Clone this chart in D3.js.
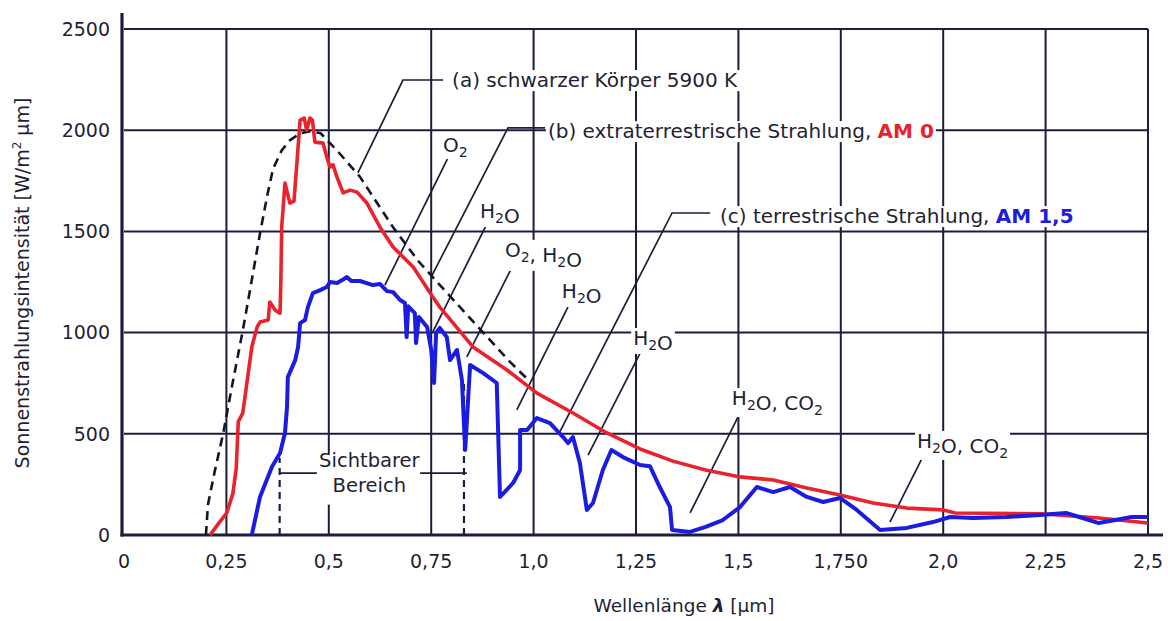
<!DOCTYPE html>
<html>
<head>
<meta charset="utf-8">
<script src="https://cdn.jsdelivr.net/npm/d3@7"></script>
<style>
  body { margin: 0; background: #fff; }
  text { font-family: "DejaVu Sans", "Liberation Sans", sans-serif; fill: #1f1f35; }
</style>
</head>
<body>
<svg id="chart"></svg>
<script>
// wavelength in µm, intensity in W/(m² µm)
const xTicks = [0, 0.25, 0.5, 0.75, 1.0, 1.25, 1.5, 1.75, 2.0, 2.25, 2.5];
const xTickLabels = ["0", "0,25", "0,5", "0,75", "1,0", "1,25", "1,5", "1,750", "2,0", "2,25", "2,5"];
const yTicks = [0, 500, 1000, 1500, 2000, 2500];

// (a) schwarzer Körper 5900 K
const blackBody = [
  [0.20, 0], [0.205, 150], [0.22, 300], [0.242, 500], [0.265, 750], [0.29, 1010],
  [0.312, 1260], [0.332, 1490], [0.35, 1680], [0.364, 1810], [0.385, 1900],
  [0.405, 1950], [0.43, 1985], [0.455, 1995], [0.48, 1985], [0.52, 1900],
  [0.576, 1770], [0.657, 1520], [0.72, 1350], [0.789, 1195], [0.877, 1000],
  [0.94, 860], [0.99, 760]
];

// (b) AM 0
const am0 = [
  [0.21, 0], [0.232, 60], [0.251, 109], [0.266, 207], [0.274, 330], [0.279, 560],
  [0.29, 603], [0.30, 751], [0.312, 929], [0.325, 1028], [0.332, 1052], [0.352, 1062],
  [0.356, 1151], [0.369, 1111], [0.381, 1096], [0.383, 1260], [0.385, 1521],
  [0.393, 1739], [0.405, 1640], [0.415, 1650], [0.43, 2050], [0.44, 2060],
  [0.446, 2000], [0.454, 2060], [0.46, 2050], [0.466, 1941], [0.486, 1936],
  [0.495, 1867], [0.503, 1818], [0.51, 1830], [0.52, 1768], [0.535, 1690],
  [0.552, 1704], [0.569, 1694], [0.593, 1640], [0.625, 1521], [0.657, 1423],
  [0.706, 1324], [0.754, 1176], [0.771, 1126], [0.852, 929], [0.935, 815],
  [1.008, 701], [1.096, 603], [1.179, 504], [1.26, 425], [1.34, 365], [1.42, 321],
  [1.504, 287], [1.585, 272], [1.667, 232], [1.748, 198], [1.829, 158],
  [1.911, 133], [2.0, 124], [2.03, 109], [2.24, 105], [2.38, 84], [2.5, 59]
];

// (c) AM 1,5
const am15 = [
  [0.312, 0], [0.332, 188], [0.361, 336], [0.381, 405], [0.393, 504], [0.398, 632],
  [0.40, 780], [0.418, 864], [0.425, 929], [0.43, 1047], [0.442, 1062], [0.449, 1126],
  [0.461, 1195], [0.479, 1210], [0.495, 1225], [0.503, 1250], [0.52, 1245],
  [0.535, 1262], [0.544, 1275], [0.555, 1255], [0.576, 1255], [0.608, 1235],
  [0.625, 1240], [0.642, 1205], [0.657, 1200], [0.674, 1161], [0.686, 1146],
  [0.69, 978], [0.694, 1130], [0.71, 1096], [0.713, 949], [0.72, 1077], [0.74, 1028],
  [0.75, 914], [0.757, 751], [0.762, 998], [0.771, 1023], [0.788, 978], [0.796, 864],
  [0.813, 914], [0.825, 766], [0.833, 420], [0.845, 840], [0.877, 800], [0.91, 751],
  [0.918, 188], [0.95, 257], [0.967, 321], [0.967, 519], [0.984, 519], [1.008, 578],
  [1.04, 553], [1.072, 484], [1.084, 454], [1.096, 484], [1.113, 356], [1.13, 124],
  [1.145, 158], [1.169, 321], [1.19, 420], [1.218, 385], [1.26, 346], [1.284, 340],
  [1.308, 237], [1.333, 138], [1.338, 25], [1.382, 15], [1.42, 40], [1.462, 74],
  [1.504, 138], [1.545, 237], [1.585, 212], [1.626, 237], [1.667, 188], [1.707, 163],
  [1.748, 183], [1.789, 124], [1.846, 25], [1.911, 35], [1.975, 64], [2.017, 89],
  [2.073, 84], [2.155, 89], [2.236, 99], [2.30, 109], [2.34, 84], [2.38, 59],
  [2.42, 74], [2.46, 89], [2.5, 89]
];

// annotation texts (data coords of text start / baseline) and their leader lines
const labelText = [
  "(a) schwarzer Körper 5900 K", "(b) extraterrestrische Strahlung, ", "(c) terrestrische Strahlung, ",
  "O_2", "H_2O", "O_2, H_2O", "H_2O", "H_2O", "H_2O, CO_2", "H_2O, CO_2"
];
const labelTail = [null, "AM 0", "AM 1,5", null, null, null, null, null, null, null];
const labelPos = [
  [0.801, 2213], [1.035, 1961], [1.455, 1541], [0.779, 1892], [0.869, 1566],
  [0.93, 1374], [1.069, 1171], [1.243, 939], [1.484, 642], [1.936, 430]
];
const leaders = [
  [[0.779, 2248], [0.681, 2248], [0.571, 1789]],
  [[1.028, 2011], [0.9375, 2011], [0.75, 1275]],
  [[1.431, 1591], [1.338, 1591], [1.064, 509]],
  [[0.791, 1863], [0.637, 1235]],
  [[0.886, 1537], [0.754, 1003]],
  [[0.95, 1334], [0.837, 880]],
  [[1.084, 1127], [0.959, 618]],
  [[1.26, 899], [1.133, 395]],
  [[1.504, 603], [1.382, 109]],
  [[1.956, 410], [1.87, 64]]
];
// visible range 0,38 .. 0,83 µm
const visibleBounds = [0.38, 0.83];
const visibleTops = [380, 766];
const visibleText = ["Sichtbarer", "Bereich"];

const width = 1168, height = 621;
const red = "#e8232d", blue = "#1c1ce0", ink = "#1c1d3a";

const svg = d3.select("#chart").attr("width", width).attr("height", height);

const x = d3.scaleLinear().domain([0, 2.5]).range([124, 1148]);
const y = d3.scaleLinear().domain([0, 2500]).range([535, 29]);

// grid
const grid = svg.append("g").attr("stroke", ink).attr("stroke-width", 2);
grid.selectAll(".vg").data(xTicks.slice(1)).join("line")
  .attr("x1", d => x(d)).attr("x2", d => x(d))
  .attr("y1", y(0)).attr("y2", y(2500));
grid.selectAll(".hg").data(yTicks.slice(1)).join("line")
  .attr("x1", x(0)).attr("x2", x(2.5))
  .attr("y1", d => y(d)).attr("y2", d => y(d));

// axes
svg.append("line").attr("x1", x(0) - 2).attr("x2", x(0) - 2)
  .attr("y1", 13).attr("y2", y(0) + 1.5)
  .attr("stroke", ink).attr("stroke-width", 3.2);
svg.append("line").attr("x1", x(0) - 3.5).attr("x2", 1163)
  .attr("y1", y(0)).attr("y2", y(0))
  .attr("stroke", ink).attr("stroke-width", 3.2);

svg.append("g").selectAll("text").data(xTicks).join("text")
  .attr("x", d => x(d)).attr("y", 568)
  .attr("text-anchor", "middle").attr("font-size", 19)
  .text((d, i) => xTickLabels[i]);

svg.append("g").selectAll("text").data(yTicks).join("text")
  .attr("x", 110).attr("y", d => y(d)).attr("dy", "0.36em")
  .attr("text-anchor", "end").attr("font-size", 19)
  .text(d => d);

// axis titles
svg.append("text").attr("transform", "translate(29,283) rotate(-90)")
  .attr("text-anchor", "middle").attr("font-size", 19)
  .call(t => {
    t.append("tspan").text("Sonnenstrahlungsintensität [W/m");
    t.append("tspan").attr("dy", -8).attr("font-size", 12).text("2");
    t.append("tspan").attr("dy", 8).text(" µm]");
  });
svg.append("text").attr("x", 684).attr("y", 612)
  .attr("text-anchor", "middle").attr("font-size", 18.5)
  .call(t => {
    t.append("tspan").text("Wellenlänge ");
    t.append("tspan").attr("font-weight", "bold").attr("font-style", "italic").text("λ");
    t.append("tspan").text(" [µm]");
  });

// visible range markers
const vis = svg.append("g").attr("stroke", ink).attr("stroke-width", 2.2).attr("fill", "none");
vis.selectAll("line").data(visibleBounds).join("line")
  .attr("x1", d => x(d)).attr("x2", d => x(d))
  .attr("y1", y(0)).attr("y2", (d, i) => y(visibleTops[i]))
  .attr("stroke-dasharray", "7,5");

const line = d3.line().x(d => x(d[0])).y(d => y(d[1]));

// leader lines
svg.append("g").attr("stroke", ink).attr("stroke-width", 1.7).attr("fill", "none")
  .selectAll("path").data(leaders).join("path").attr("d", line);

// labels with white box so gridlines break behind them
const labs = svg.append("g");
function addLabel(str, tail, pos, color) {
  const g = labs.append("g");
  const rect = g.append("rect").attr("fill", "#fff");
  const t = g.append("text").attr("x", x(pos[0])).attr("y", y(pos[1])).attr("font-size", 20);
  str.split(/_(\d)/).forEach((part, i) => {
    if (!part) return;
    if (i % 2 === 1) {
      t.append("tspan").attr("dy", 5).attr("font-size", 14).text(part);
      t.append("tspan").attr("dy", -5).text("");
    } else {
      t.append("tspan").text(part);
    }
  });
  if (tail) t.append("tspan").attr("fill", color).attr("font-weight", "bold").text(tail);
  const b = t.node().getBBox();
  rect.attr("x", b.x - 2).attr("y", b.y + 2).attr("width", b.width + 4).attr("height", b.height - 3);
}
labelText.forEach((s, i) => addLabel(s, labelTail[i], labelPos[i], i === 1 ? red : blue));

// Sichtbarer Bereich
const visLab = svg.append("g");
visLab.append("rect").attr("fill", "#fff")
  .attr("x", x(0.471) + 1).attr("y", y(400)).attr("width", x(0.723) - x(0.471) - 2).attr("height", y(150) - y(400));
visLab.selectAll("text").data(visibleText).join("text")
  .attr("x", x(0.599)).attr("y", (d, i) => y(i === 0 ? 336 : 212))
  .attr("text-anchor", "middle").attr("font-size", 19.5).text(d => d);
svg.append("g").attr("stroke", ink).attr("stroke-width", 1.7)
  .selectAll("line").data([[0.381, 0.471], [0.723, 0.837]]).join("line")
  .attr("x1", d => x(d[0])).attr("x2", d => x(d[1]))
  .attr("y1", y(306)).attr("y2", y(306));

// curves
svg.append("path").datum(blackBody).attr("d", line)
  .attr("fill", "none").attr("stroke", "#15152a").attr("stroke-width", 2.6)
  .attr("stroke-dasharray", "9,6");
svg.append("path").datum(am0).attr("d", line)
  .attr("fill", "none").attr("stroke", red).attr("stroke-width", 3.6)
  .attr("stroke-linejoin", "round");
svg.append("path").datum(am15).attr("d", line)
  .attr("fill", "none").attr("stroke", blue).attr("stroke-width", 4)
  .attr("stroke-linejoin", "round");
</script>
</body>
</html>
